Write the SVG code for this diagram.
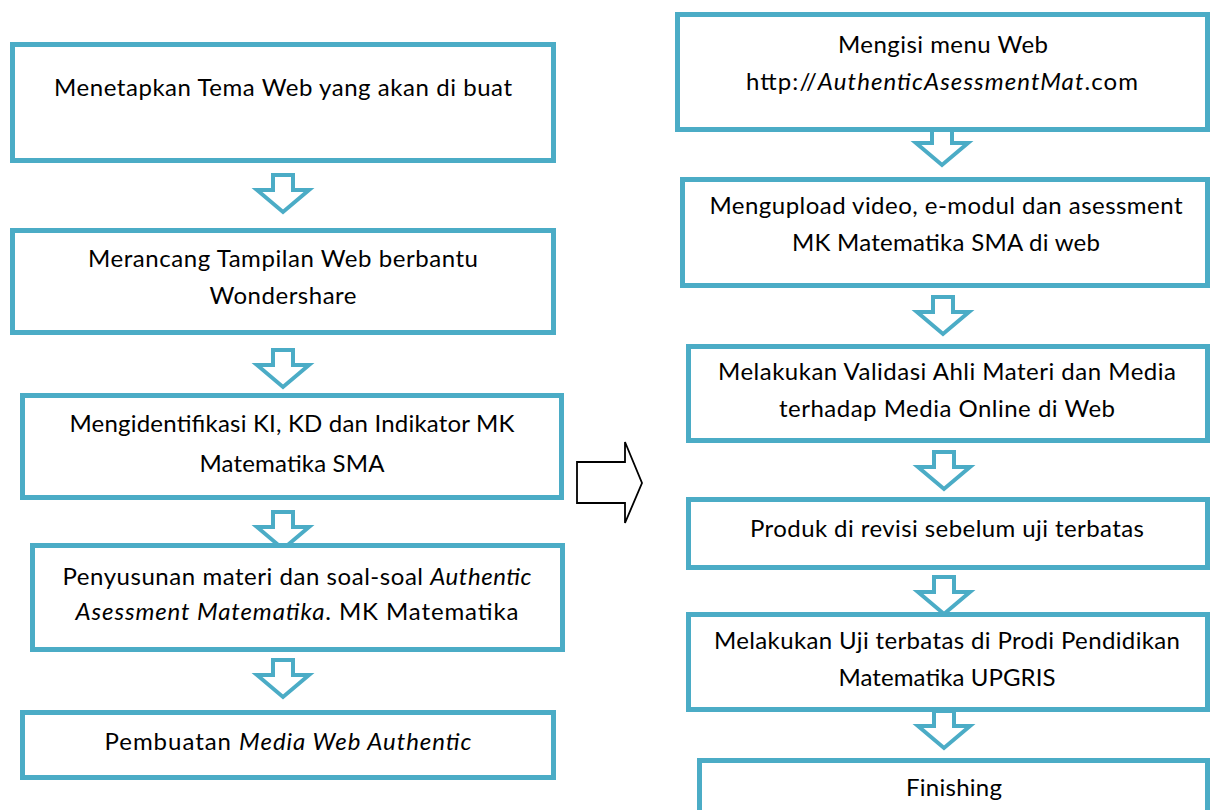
<svg xmlns="http://www.w3.org/2000/svg" width="1211" height="810" viewBox="0 0 1211 810">
<style>
.box{fill:#fff;stroke:#4bacc6;stroke-width:5}
.dn{fill:#fff;stroke:#4bacc6;stroke-width:4;stroke-linejoin:miter}
.big{fill:#fff;stroke:#000;stroke-width:1.8}
text{font-family:Lato,"Open Sans","Liberation Sans",sans-serif;font-size:24px;fill:#000;text-anchor:middle}
.i{font-style:italic}
</style>
<defs>
<polygon id="dA" class="dn" points="-10,0 10,0 10,15 26,15 0,37 -26,15 -10,15"/>
</defs>
<rect width="1211" height="810" fill="#fff"/>
<g id="connectors">
<use href="#dA" x="283" y="175"/>
<use href="#dA" x="283" y="350"/>
<use href="#dA" x="283" y="512"/>
<use href="#dA" x="283" y="660"/>
<use href="#dA" x="942" y="128"/>
<use href="#dA" x="943" y="297"/>
<use href="#dA" x="944" y="452"/>
<use href="#dA" x="944" y="577"/>
<use href="#dA" x="944" y="711"/>
<polygon class="big" points="577,462 625,462 625,442 642,483 625,523 625,503 577,503"/>
</g>
<g id="n1"><rect class="box" x="12.5" y="44.5" width="541" height="116"/><text x="283" y="96" textLength="458">Menetapkan Tema Web yang akan di buat</text></g>
<g id="n2"><rect class="box" x="12.5" y="230.5" width="541" height="102"/><text x="283" y="267" textLength="390">Merancang Tampilan Web berbantu</text><text x="283" y="304" textLength="147">Wondershare</text></g>
<g id="n3"><rect class="box" x="22.5" y="395.5" width="539" height="102"/><text x="292" y="432" textLength="445">Mengidentifikasi KI, KD dan Indikator MK</text><text x="292" y="472" textLength="185">Matematika SMA</text></g>
<g id="n4"><rect class="box" x="32.5" y="545.5" width="530" height="104"/><text x="297" y="585" textLength="469">Penyusunan materi dan soal-soal <tspan class="i">Authentic</tspan></text><text x="297" y="620" textLength="443"><tspan class="i">Asessment Matematika</tspan>. MK Matematika</text></g>
<g id="n5"><rect class="box" x="22.5" y="712.5" width="531" height="65"/><text x="288" y="750" textLength="367">Pembuatan <tspan class="i">Media Web Authentic</tspan></text></g>
<g id="r1"><rect class="box" x="677.5" y="14.5" width="530" height="115"/><text x="943" y="53" textLength="210">Mengisi menu Web</text><text x="942" y="90" textLength="392">http://<tspan class="i">AuthenticAsessmentMat</tspan>.com</text></g>
<g id="r2"><rect class="box" x="682.5" y="179.5" width="525" height="106"/><text x="946" y="214" textLength="473">Mengupload video, e-modul dan asessment</text><text x="946" y="251" textLength="308">MK Matematika SMA di web</text></g>
<g id="r3"><rect class="box" x="688.5" y="346.5" width="519" height="94"/><text x="947" y="380" textLength="458">Melakukan Validasi Ahli Materi dan Media</text><text x="947" y="417" textLength="336">terhadap Media Online di Web</text></g>
<g id="r4"><rect class="box" x="688.5" y="499.5" width="519" height="68"/><text x="947" y="537" textLength="394">Produk di revisi sebelum uji terbatas</text></g>
<g id="r5"><rect class="box" x="688.5" y="614.5" width="519" height="95"/><text x="947" y="649" textLength="466">Melakukan Uji terbatas di Prodi Pendidikan</text><text x="947" y="686" textLength="217">Matematika UPGRIS</text></g>
<g id="r6"><rect class="box" x="699.5" y="760.5" width="508" height="60"/><text x="954" y="796" textLength="96">Finishing</text></g>
</svg>
